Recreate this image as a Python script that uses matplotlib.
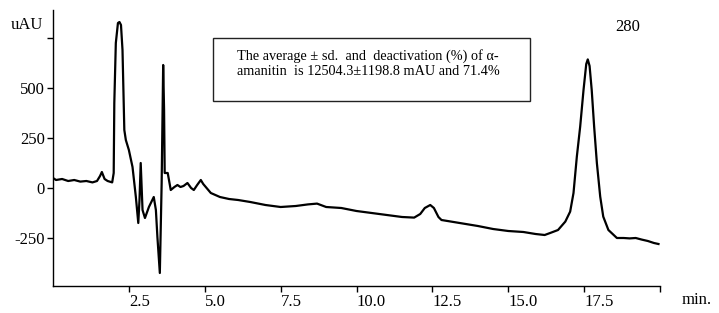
import matplotlib
matplotlib.use("Agg")
import matplotlib.pyplot as plt
from matplotlib.patches import Rectangle

plt.rcParams['font.family'] = ['Liberation Serif', 'DejaVu Serif']

time_min = [0.0, 0.1, 0.3, 0.5, 0.7, 0.9, 1.1, 1.3, 1.45, 1.55, 1.61, 1.7, 1.8, 1.95,
            2.0, 2.02, 2.07, 2.14, 2.19, 2.24, 2.29, 2.35, 2.4, 2.5, 2.62,
            2.73, 2.81, 2.85, 2.89, 2.95, 3.03, 3.16, 3.32, 3.39, 3.44, 3.52,
            3.58, 3.63, 3.66, 3.68, 3.78, 3.88, 4.0, 4.1, 4.2, 4.3, 4.43, 4.55,
            4.64, 4.75, 4.87, 4.95, 5.2, 5.5, 5.8, 6.1, 6.5, 7.0, 7.5, 8.0, 8.4,
            8.7, 9.0, 9.5, 10.0, 10.5, 11.0, 11.5, 11.9, 12.1, 12.25, 12.43, 12.55,
            12.7, 12.8, 13.2, 13.6, 14.0, 14.5, 15.0, 15.5, 15.9, 16.2, 16.38,
            16.64, 16.88, 17.04, 17.15, 17.26, 17.37, 17.48, 17.57, 17.62, 17.68,
            17.75, 17.83, 17.92, 18.03, 18.13, 18.3, 18.58, 18.8, 19.0, 19.2,
            19.4, 19.6, 19.8, 19.95]
signal_uau = [50, 40, 45, 35, 40, 32, 35, 28, 35, 60, 80, 45, 35, 28,
              75, 425, 725, 825, 830, 815, 690, 290, 240, 190, 105,
              -45, -175, -60, 125, -110, -150, -95, -45, -110, -245, -425,
              25, 615, 390, 75, 75, -10, 5, 15, 5, 10, 25, 0,
              -10, 15, 40, 20, -25, -45, -55, -60, -70, -85, -95, -90, -82,
              -78, -95, -100, -115, -125, -135, -145, -148, -130, -100, -85, -100,
              -145, -160, -170, -180, -190, -205, -215, -220, -230, -235, -225,
              -210, -168, -118, -25, 157, 307, 490, 620, 643, 610,
              490, 307, 125, -43, -143, -210, -250, -250, -252, -250,
              -258, -265, -275, -280]

xticks = [2.5, 5.0, 7.5, 10.0, 12.5, 15.0, 17.5, 20.0]
xtick_labels = ["2.5", "5.0", "7.5", "10.0", "12.5", "15.0", "17.5", ""]
yticks = [-250, 0, 250, 500, 750]
ytick_labels = ["-250", "0", "250", "500", ""]

W, H = 719, 313
fig = plt.figure(figsize=(W / 100, H / 100), dpi=100)
ax = fig.add_axes([53 / W, 1 - 286 / H, (660 - 53) / W, 276 / H])
ax.plot(time_min, signal_uau, color='black', lw=1.6)
ax.set_xlim(0, 20)
ax.set_ylim(-490, 890)
for s in ['top', 'right']:
    ax.spines[s].set_visible(False)
ax.spines['left'].set_linewidth(1.0)
ax.spines['bottom'].set_linewidth(1.0)
ax.set_xticks(xticks)
ax.set_xticklabels(xtick_labels, fontsize=12)
for lab in ax.get_xticklabels():
    lab.set_horizontalalignment('left')
ax.set_yticks(yticks)
ax.set_yticklabels(ytick_labels, fontsize=12)
ax.tick_params(axis='both', direction='out', length=4, width=1, pad=2)

fig.text(27 / W, 1 - 25 / H, "uAU", fontsize=12, ha='center', va='center')
fig.text(628 / W, 1 - 27 / H, "280", fontsize=12, ha='center', va='center')
fig.text(697 / W, 1 - 300 / H, "min.", fontsize=12, ha='center', va='center')

fig.patches.append(Rectangle((213 / W, 1 - 101 / H), 317 / W, 63 / H,
                             transform=fig.transFigure, fill=False,
                             edgecolor='#222222', lw=1.0))
fig.text(237 / W, 1 - 63.5 / H,
         "The average \u00b1 sd.  and  deactivation (%) of \u03b1-\namanitin  is 12504.3\u00b11198.8 mAU and 71.4%",
         fontsize=10.3, ha='left', va='center', linespacing=1.15)

fig.savefig("out.png", dpi=100)
